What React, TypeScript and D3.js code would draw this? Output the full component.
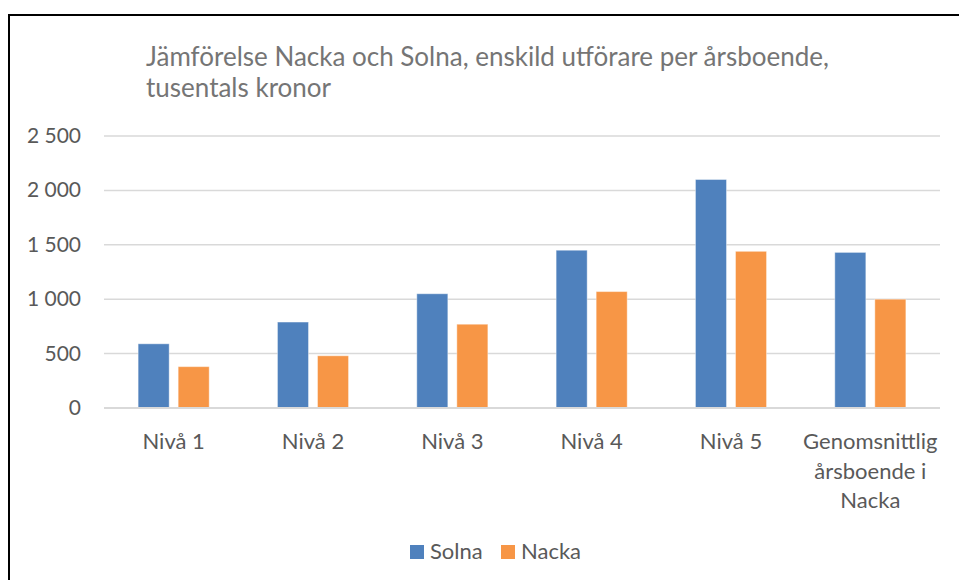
import React, { useEffect, useRef } from "react";
import * as d3 from "d3";

const categories = ["Nivå 1", "Nivå 2", "Nivå 3", "Nivå 4", "Nivå 5", "Genomsnittlig årsboende i Nacka"];
const series = ["Solna", "Nacka"];
const solna = [590, 790, 1050, 1450, 2100, 1430];
const nacka = [380, 480, 770, 1070, 1440, 1000];
const yTicks = [0, 500, 1000, 1500, 2000, 2500];
const titleLines = ["Jämförelse Nacka och Solna, enskild utförare per årsboende,", "tusentals kronor"];
const colors = ["#4F81BD", "#F79646"];

const W = 959;
const H = 580;
const FONT = "Lato, 'Open Sans', sans-serif";

export default function App() {
  const ref = useRef<SVGSVGElement>(null);

  useEffect(() => {
    const svg = d3.select(ref.current);
    svg.selectAll("*").remove();

    const left = 104, right = 940, top = 136, bottom = 408;

    const x0 = d3.scaleBand().domain(categories).range([left, right]).paddingInner(0.49).paddingOuter(0.245);
    const x1 = d3.scaleBand().domain(series).range([0, x0.bandwidth()]).paddingInner(0.225);
    const y = d3.scaleLinear().domain([0, 2500]).range([bottom, top]);

    // frame
    svg.append("rect")
      .attr("x", 9).attr("y", 15)
      .attr("width", W + 10).attr("height", H + 10)
      .attr("fill", "white").attr("stroke", "black").attr("stroke-width", 2);

    // title
    const title = svg.append("text")
      .attr("font-family", FONT).attr("font-size", 26).attr("fill", "#757575");
    titleLines.forEach((t, i) => {
      title.append("tspan").attr("x", 146).attr("y", 66 + i * 31).text(t);
    });

    // grid
    svg.append("g").selectAll("line").data(yTicks).join("line")
      .attr("x1", left).attr("x2", right)
      .attr("y1", d => y(d)).attr("y2", d => y(d))
      .attr("stroke", "#D9D9D9").attr("stroke-width", 1.5);

    // y labels
    const fmt = (v: number) => d3.format(",")(v).replace(/,/g, " ");
    svg.append("g").selectAll("text").data(yTicks).join("text")
      .attr("x", 81).attr("y", d => y(d) + 7)
      .attr("text-anchor", "end")
      .attr("font-family", FONT).attr("font-size", 21).attr("fill", "#595959")
      .text(d => fmt(d));

    // bars
    const rows = categories.map((c, i) => ({ c, vals: [solna[i], nacka[i]] }));
    const g = svg.append("g").selectAll("g").data(rows).join("g")
      .attr("transform", d => `translate(${x0(d.c)},0)`);
    g.selectAll("rect").data(d => d.vals.map((v, j) => ({ s: series[j], v, j }))).join("rect")
      .attr("x", d => x1(d.s)!)
      .attr("y", d => y(d.v))
      .attr("width", x1.bandwidth())
      .attr("height", d => bottom - y(d.v))
      .attr("fill", d => colors[d.j])
      .attr("stroke", "white").attr("stroke-opacity", 0.4).attr("stroke-width", 1);

    // baseline
    svg.append("line")
      .attr("x1", left).attr("x2", right).attr("y1", bottom).attr("y2", bottom)
      .attr("stroke", "#D9D9D9").attr("stroke-width", 2);

    // x labels
    const wrap: Record<string, string[]> = {
      "Genomsnittlig årsboende i Nacka": ["Genomsnittlig", "årsboende i", "Nacka"],
    };
    categories.forEach(c => {
      const lines = wrap[c] || [c];
      const t = svg.append("text")
        .attr("text-anchor", "middle")
        .attr("font-family", FONT).attr("font-size", 22).attr("fill", "#595959");
      lines.forEach((l, i) => {
        t.append("tspan").attr("x", x0(c)! + x0.bandwidth() / 2).attr("y", 449 + i * 29.5).text(l);
      });
    });

    // legend
    const lg = svg.append("g").attr("transform", "translate(410,545)");
    series.forEach((s, i) => {
      const off = i * 91;
      lg.append("rect").attr("x", off).attr("y", 0).attr("width", 14).attr("height", 14).attr("fill", colors[i]);
      lg.append("text").attr("x", off + 20).attr("y", 14)
        .attr("font-family", FONT).attr("font-size", 22).attr("fill", "#595959").text(s);
    });
  }, []);

  return (
    <svg ref={ref} width={W} height={H}
      style={{ position: "absolute", left: 0, top: 0, display: "block", background: "white" }} />
  );
}
